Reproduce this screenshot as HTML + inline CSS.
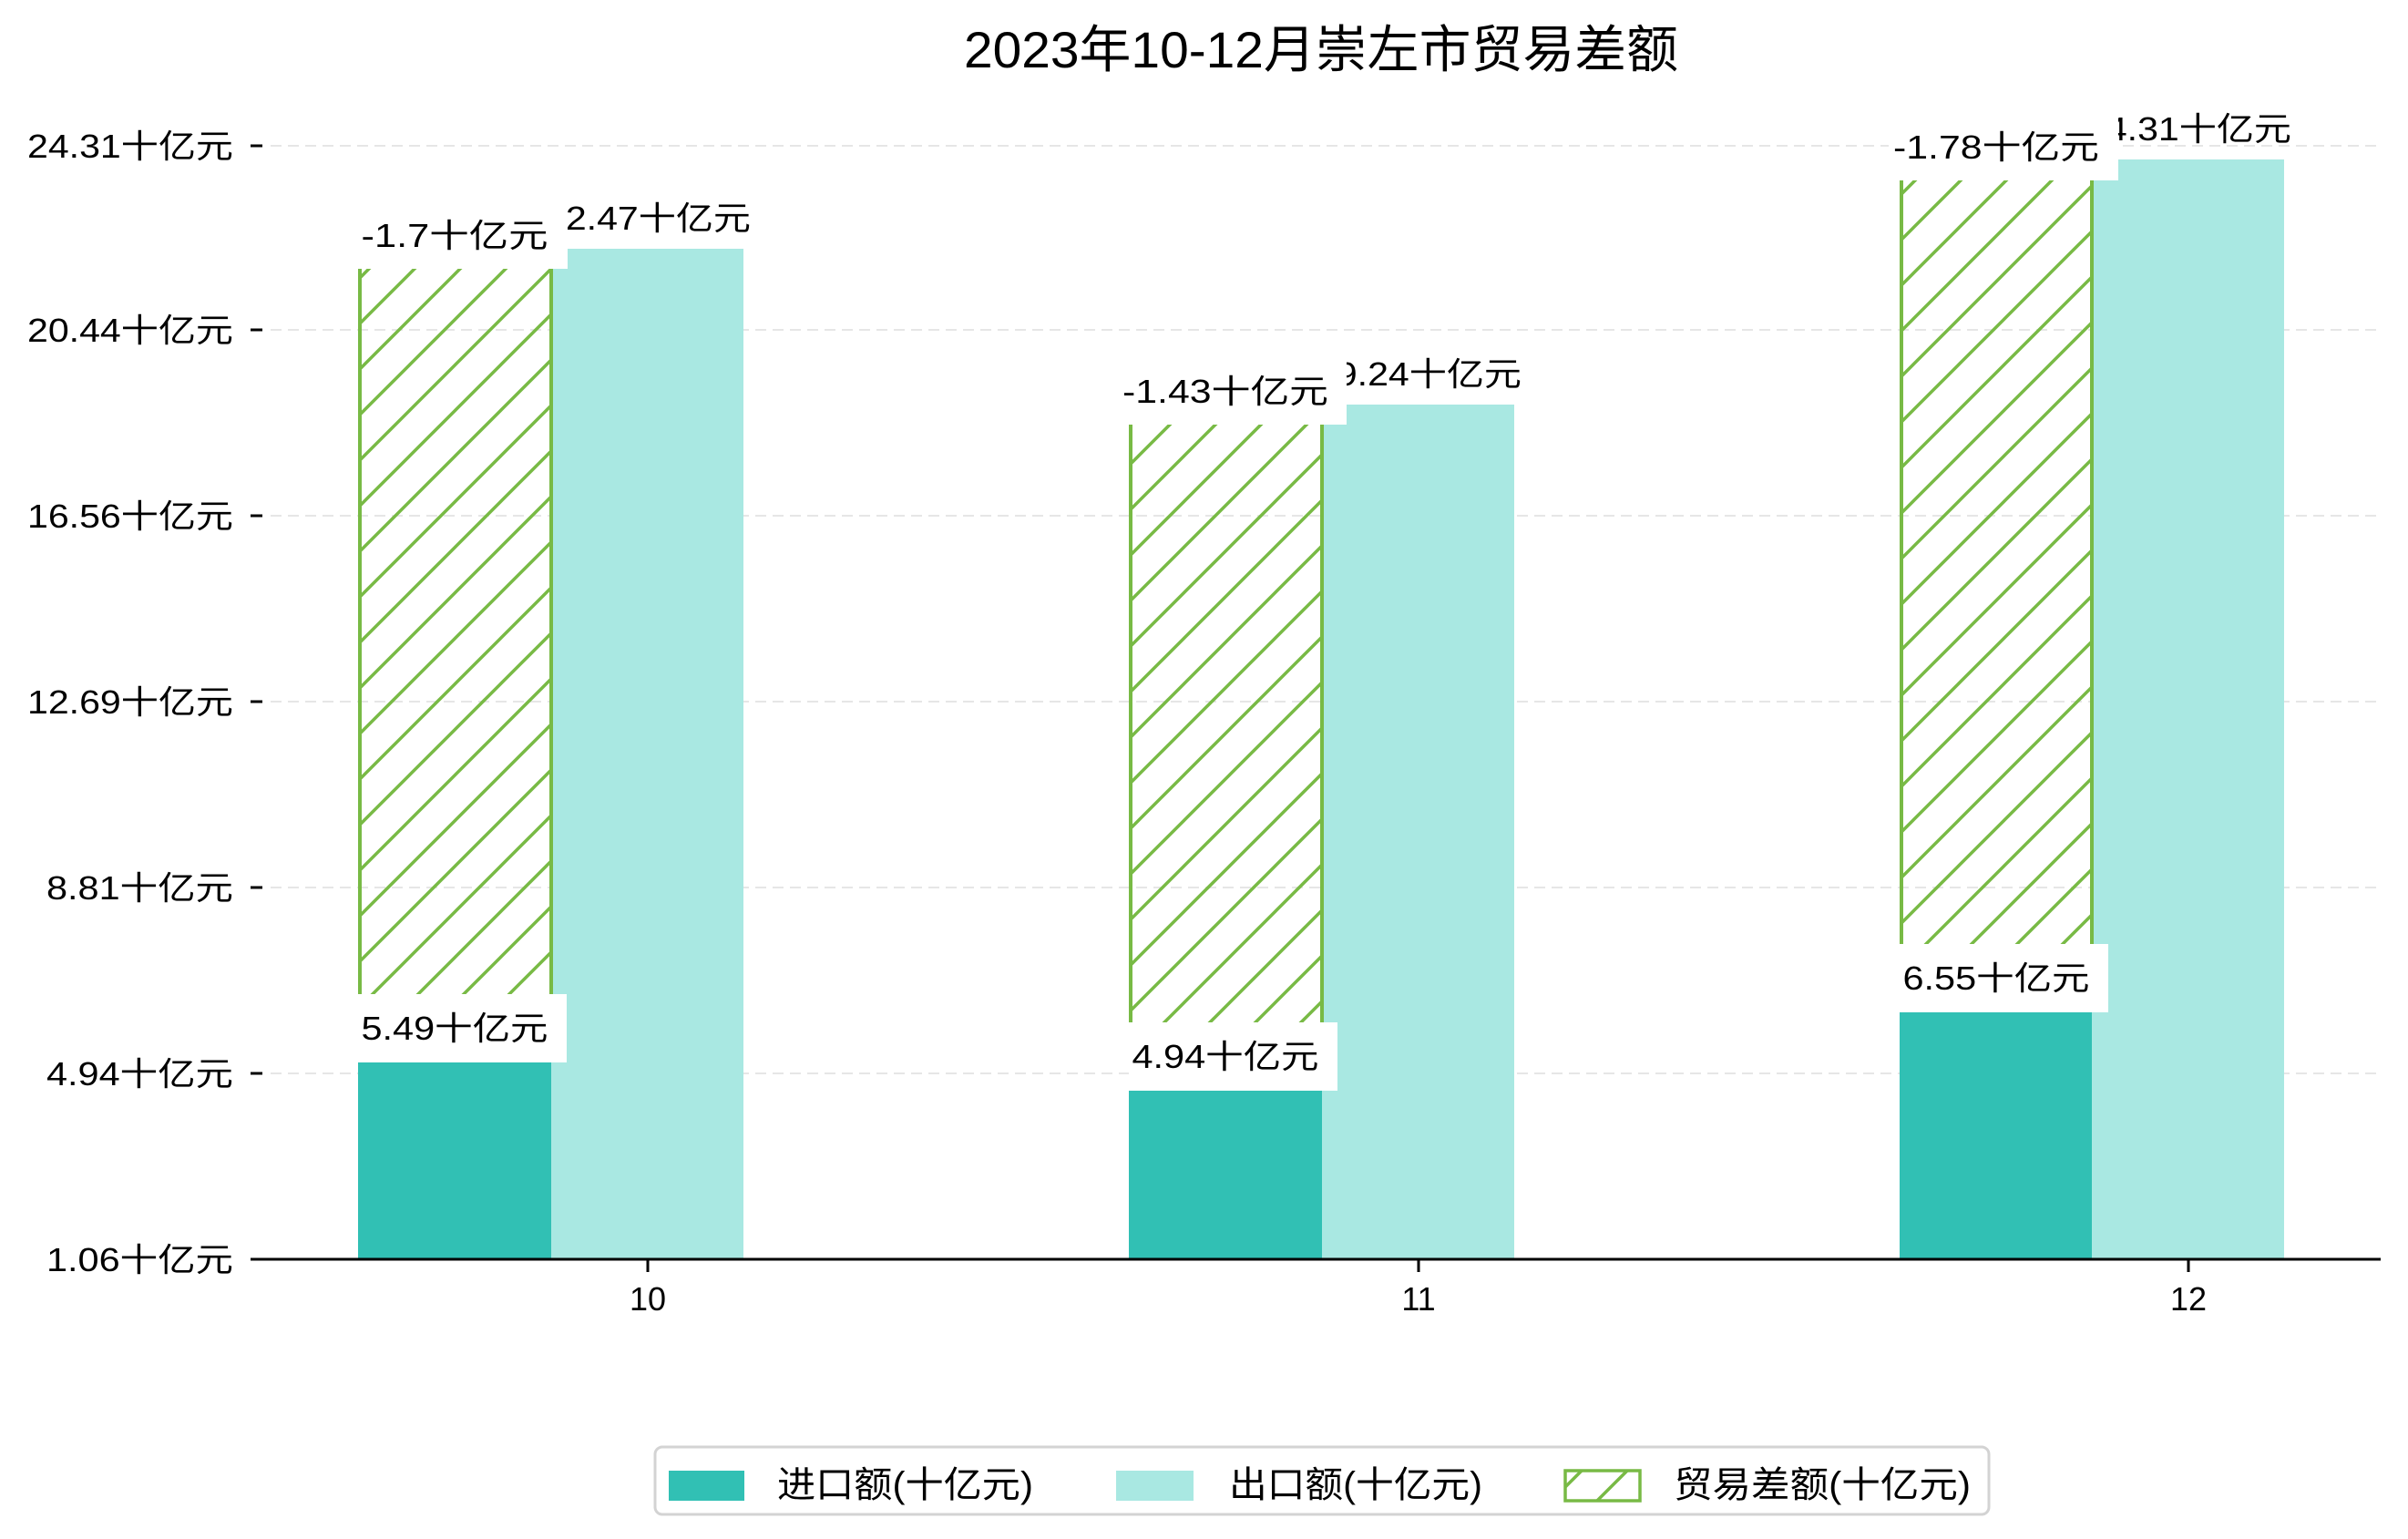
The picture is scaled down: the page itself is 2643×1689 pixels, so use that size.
<!DOCTYPE html>
<html><head><meta charset="utf-8"><style>html,body{margin:0;padding:0;background:#fff}svg{display:block}text{font-family:"Liberation Sans","Noto Sans CJK SC",sans-serif;fill:#000}</style></head>
<body>
<svg width="2643" height="1689" viewBox="0 0 2643 1689" xmlns="http://www.w3.org/2000/svg">
<defs>
<pattern id="h" patternUnits="userSpaceOnUse" width="50" height="50">
<line x1="0" y1="50" x2="50" y2="0" stroke="#78BA45" stroke-width="3.5"/>
<line x1="-25" y1="25" x2="25" y2="-25" stroke="#78BA45" stroke-width="3.5"/>
<line x1="25" y1="75" x2="75" y2="25" stroke="#78BA45" stroke-width="3.5"/>
</pattern>
</defs>
<text x="1450" y="74" font-size="56" text-anchor="middle" textLength="784" lengthAdjust="spacingAndGlyphs">2023年10-12月崇左市贸易差额</text>
<g stroke="#e6e6e6" stroke-width="2" stroke-dasharray="12 7">
<line x1="297" y1="160" x2="2613" y2="160"/><line x1="297" y1="362" x2="2613" y2="362"/><line x1="297" y1="566" x2="2613" y2="566"/><line x1="297" y1="770" x2="2613" y2="770"/><line x1="297" y1="974" x2="2613" y2="974"/><line x1="297" y1="1178" x2="2613" y2="1178"/>
</g>
<g stroke="#000" stroke-width="3">
<line x1="275" y1="160" x2="288" y2="160"/><line x1="275" y1="362" x2="288" y2="362"/><line x1="275" y1="566" x2="288" y2="566"/><line x1="275" y1="770" x2="288" y2="770"/><line x1="275" y1="974" x2="288" y2="974"/><line x1="275" y1="1178" x2="288" y2="1178"/>
</g>
<g font-size="36" text-anchor="end">
<text x="256" y="173" textLength="226" lengthAdjust="spacingAndGlyphs">24.31十亿元</text>
<text x="256" y="375" textLength="226" lengthAdjust="spacingAndGlyphs">20.44十亿元</text>
<text x="256" y="579" textLength="226" lengthAdjust="spacingAndGlyphs">16.56十亿元</text>
<text x="256" y="783" textLength="226" lengthAdjust="spacingAndGlyphs">12.69十亿元</text>
<text x="256" y="987" textLength="205" lengthAdjust="spacingAndGlyphs">8.81十亿元</text>
<text x="256" y="1191" textLength="205" lengthAdjust="spacingAndGlyphs">4.94十亿元</text>
<text x="256" y="1395" textLength="205" lengthAdjust="spacingAndGlyphs">1.06十亿元</text>
</g>
<rect x="393" y="1166" width="212" height="216" fill="#31C0B4"/>
<rect x="605" y="273" width="211" height="1109" fill="#A9E8E2"/>
<rect x="1239" y="1197" width="212" height="185" fill="#31C0B4"/>
<rect x="1451" y="444" width="211" height="938" fill="#A9E8E2"/>
<rect x="2085" y="1111" width="211" height="271" fill="#31C0B4"/>
<rect x="2296" y="175" width="211" height="1207" fill="#A9E8E2"/>
<g font-size="36" text-anchor="middle">
<text x="711" y="252" textLength="226" lengthAdjust="spacingAndGlyphs">22.47十亿元</text>
<text x="1557" y="423" textLength="226" lengthAdjust="spacingAndGlyphs">19.24十亿元</text>
<text x="2402" y="154" textLength="226" lengthAdjust="spacingAndGlyphs">24.31十亿元</text>
</g>
<rect x="395" y="293" width="210" height="873" fill="url(#h)"/>
<rect x="1241" y="464" width="210" height="733" fill="url(#h)"/>
<rect x="2087" y="196" width="209" height="915" fill="url(#h)"/>
<g stroke="#78BA45" stroke-width="4">
<line x1="395" y1="293" x2="395" y2="1166"/><line x1="605" y1="293" x2="605" y2="1166"/>
<line x1="1241" y1="464" x2="1241" y2="1197"/><line x1="1451" y1="464" x2="1451" y2="1197"/>
<line x1="2087" y1="196" x2="2087" y2="1111"/><line x1="2296" y1="196" x2="2296" y2="1111"/>
</g>
<g fill="#fff">
<rect x="393" y="1091" width="229" height="75"/>
<rect x="1239" y="1122" width="229" height="75"/>
<rect x="2085" y="1036" width="229" height="75"/>
<rect x="385" y="218" width="238" height="77"/>
<rect x="1229" y="389" width="249" height="77"/>
<rect x="2073" y="121" width="252" height="77"/>
</g>
<g font-size="36" text-anchor="middle">
<text x="499" y="1141" textLength="205" lengthAdjust="spacingAndGlyphs">5.49十亿元</text>
<text x="1345" y="1172" textLength="205" lengthAdjust="spacingAndGlyphs">4.94十亿元</text>
<text x="2191" y="1086" textLength="205" lengthAdjust="spacingAndGlyphs">6.55十亿元</text>
<text x="499" y="271" textLength="205" lengthAdjust="spacingAndGlyphs">-1.7十亿元</text>
<text x="1345" y="442" textLength="226" lengthAdjust="spacingAndGlyphs">-1.43十亿元</text>
<text x="2191" y="174" textLength="226" lengthAdjust="spacingAndGlyphs">-1.78十亿元</text>
</g>
<line x1="275" y1="1382" x2="2613" y2="1382" stroke="#000" stroke-width="3"/>
<g stroke="#000" stroke-width="3"><line x1="711" y1="1382" x2="711" y2="1396"/><line x1="1557" y1="1382" x2="1557" y2="1396"/><line x1="2402" y1="1382" x2="2402" y2="1396"/></g>
<g font-size="36" text-anchor="middle">
<text x="711" y="1438">10</text><text x="1557" y="1438">11</text><text x="2402" y="1438">12</text>
</g>
<rect x="719" y="1588" width="1464" height="74" rx="8" fill="#fff" stroke="#d3d3d3" stroke-width="3"/>
<rect x="734" y="1614" width="83" height="33" fill="#31C0B4"/>
<rect x="1225" y="1614" width="85" height="33" fill="#A9E8E2"/>
<rect x="1718" y="1614" width="82" height="33" fill="url(#h)" stroke="#78BA45" stroke-width="3.5"/>
<g font-size="40">
<text x="853" y="1643" textLength="281" lengthAdjust="spacingAndGlyphs">进口额(十亿元)</text>
<text x="1349" y="1643" textLength="278" lengthAdjust="spacingAndGlyphs">出口额(十亿元)</text>
<text x="1837" y="1643" textLength="326" lengthAdjust="spacingAndGlyphs">贸易差额(十亿元)</text>
</g>
</svg>
</body></html>
